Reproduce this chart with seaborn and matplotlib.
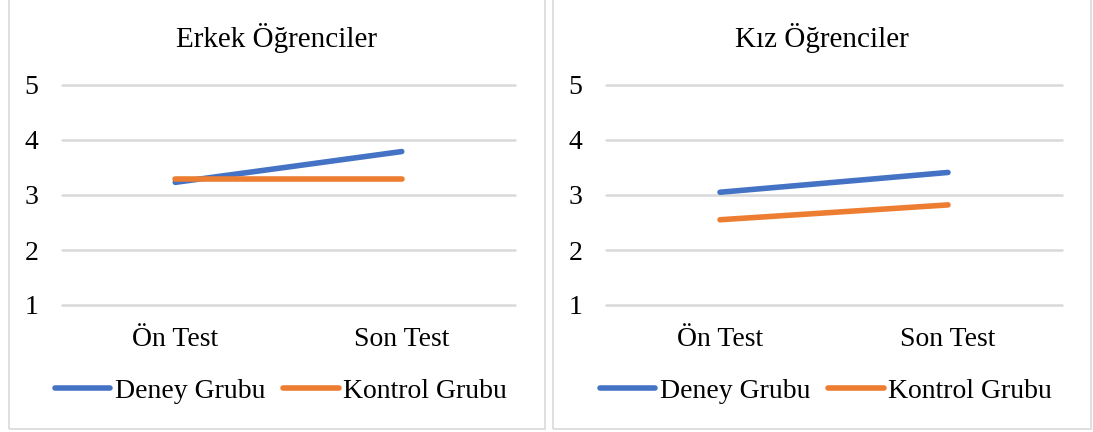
import pandas as pd
import matplotlib.pyplot as plt
import seaborn as sns
from matplotlib.patches import Rectangle

# Veri (grafikten okunan ortalama puanlar)
tests = ['Ön Test', 'Son Test']
groups = ['Deney Grubu', 'Kontrol Grubu']
erkek_deney = [3.23, 3.79]
erkek_kontrol = [3.29, 3.29]
kiz_deney = [3.05, 3.41]
kiz_kontrol = [2.55, 2.82]
titles = ['Erkek Öğrenciler', 'Kız Öğrenciler']
colors = ['#4472C4', '#ED7D31']

sns.set_theme(style="white")
plt.rcParams['font.family'] = ['Liberation Serif', 'DejaVu Serif']
plt.rcParams['text.color'] = 'black'


def long_df(deney, kontrol):
    return pd.DataFrame({
        'Test': tests * 2,
        'Puan': deney + kontrol,
        'Grup': [groups[0]] * 2 + [groups[1]] * 2,
    })


data = [long_df(erkek_deney, erkek_kontrol), long_df(kiz_deney, kiz_kontrol)]

W, H = 1093, 432
fig = plt.figure(figsize=(W / 100, H / 100), dpi=100)

# panel çerçeveleri (piksel) ve çizim alanları
frames = [(8.5, 544.5), (552.5, 1090.5)]
plot_x = [(62, 515), (606, 1062)]
y_top, y_bot = 85, 305

for i in range(2):
    fx0, fx1 = frames[i]
    fig.patches.append(Rectangle((fx0 / W, 1 - 429 / H), (fx1 - fx0) / W, 440 / H,
                                 transform=fig.transFigure, fill=False,
                                 edgecolor='#D9D9D9', linewidth=1.2))
    px0, px1 = plot_x[i]
    ax = fig.add_axes([px0 / W, 1 - y_bot / H, (px1 - px0) / W, (y_bot - y_top) / H])
    sns.lineplot(data=data[i], x='Test', y='Puan', hue='Grup', palette=colors,
                 linewidth=4.0, ax=ax, solid_capstyle='round', legend=True)
    ax.set_xlim(-0.5, 1.5)
    ax.set_ylim(1, 5)
    ax.set_yticks([1, 2, 3, 4, 5])
    ax.yaxis.grid(True, color='#D9D9D9', linewidth=1.8)
    for gl in ax.get_ygridlines():
        gl.set_clip_on(False)
    ax.set_axisbelow(True)
    for s in ax.spines.values():
        s.set_visible(False)
    ax.tick_params(axis='y', length=0, pad=17, labelsize=20, labelcolor='black')
    ax.tick_params(axis='x', length=0, pad=16, labelsize=20, labelcolor='black')
    ax.set_xlabel('')
    ax.set_ylabel('')
    cx = (fx0 + fx1) / 2 / W
    fig.text(cx, 1 - 38 / H, titles[i], ha='center', va='center', fontsize=21,
             color='black')
    handles, labels = ax.get_legend_handles_labels()
    ax.get_legend().remove()
    leg = fig.legend(handles, labels, loc='center', bbox_to_anchor=(cx + 0.004, 1 - 391 / H),
                     ncol=2, frameon=False, fontsize=20, handlelength=2.0,
                     handletextpad=0.15, columnspacing=0.65, borderpad=0)
    for t in leg.get_texts():
        t.set_color('black')

fig.savefig('out.png', dpi=100, facecolor='white')
